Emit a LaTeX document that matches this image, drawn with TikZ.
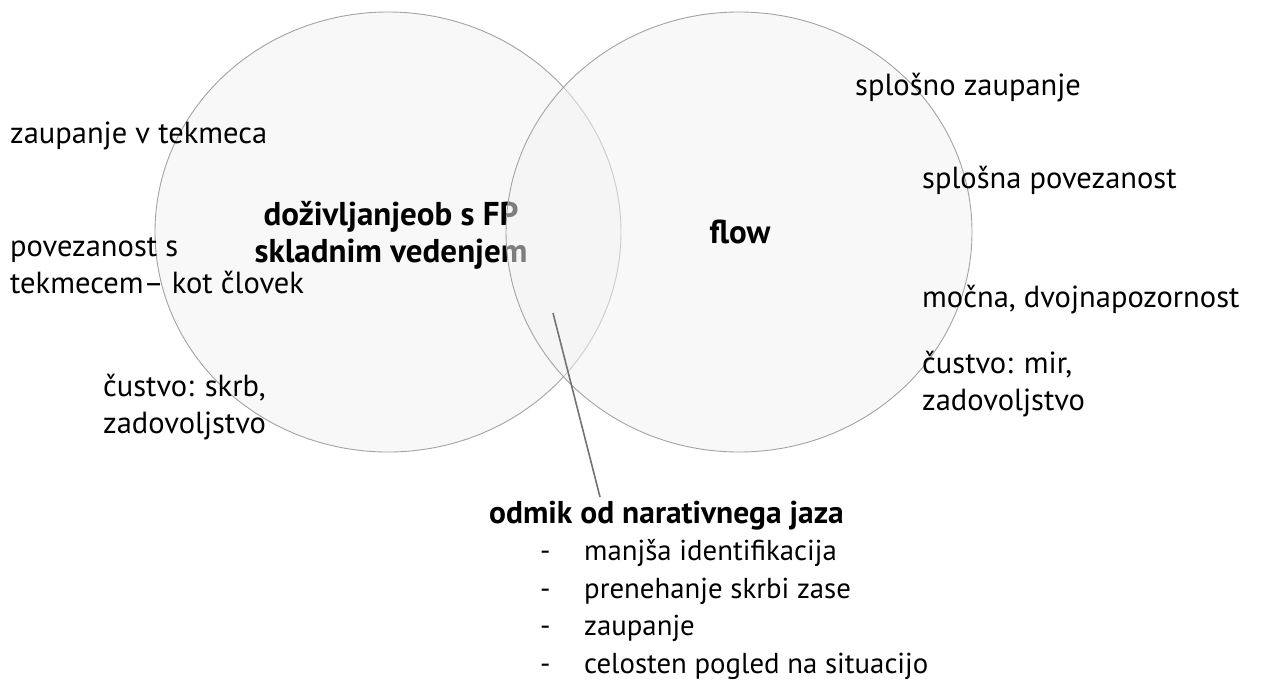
\documentclass[tikz,border=0pt]{standalone}
\usepackage{fontspec}
\setmainfont{PT Sans}

\tikzset{krog/.style = {draw=black!36, line width=0.9pt, fill=black!5, fill opacity=0.52},
         opis/.style = {anchor=base west, inner sep=0pt, align=left,
                        font=\fontsize{30.5}{37}\selectfont},
         alineja/.style = {opis, font=\fontsize{28.8}{37}\selectfont},
         naslov/.style = {anchor=base, inner sep=0pt, align=center,
                          font=\fontsize{33}{37}\selectfont\bfseries}
        }

\begin{document}
\begin{tikzpicture}[x=1pt, y=-1pt]
  \useasboundingbox (0,0) rectangle (1265,680);
  % levi krog
  \draw[krog] (388,232) ellipse [x radius=233pt, y radius=220pt];
  \node[naslov] (fp) at (391,262) {doživljanjeob s FP\\skladnim vedenjem};
  % desni krog (prek besedila levega)
  \draw[krog] (739,232) ellipse [x radius=233pt, y radius=220pt];
  \node[naslov] (flow) at (740,243) {flow};

  \node[opis] (zaupT) at (10,143) {zaupanje v tekmeca};
  \node[opis] (povT)  at (10,293) {povezanost s\\tekmecem– kot človek};
  \node[opis] (skrb)  at (103,433) {čustvo: skrb,\\zadovoljstvo};

  \node[opis] (zaupS) at (855,95)  {splošno zaupanje};
  \node[opis] (povS)  at (922,188) {splošna povezanost};
  \node[opis] (dvoj)  at (922,307) {močna, dvojnapozornost};
  \node[opis] (mir)   at (922,410) {čustvo: mir,\\zadovoljstvo};

  % odmik
  \node[opis, font=\fontsize{31.5}{37}\selectfont\bfseries] (odmik) at (489,523) {odmik od narativnega jaza};
  \foreach \besedilo [count=\i] in {manjša identifikacija, prenehanje skrbi zase,
                                    zaupanje, celosten pogled na situacijo}{
    \node[alineja] (pom\i) at (584,{523+37.5*\i}) {\besedilo};
    \node[alineja] (crt\i) at (540,{523+37.5*\i}) {-};
  }
  \coordinate (presek) at (553,313);
  \coordinate (konec) at (600,497);
  \draw[black!55, line width=1.6pt] (presek) -- (konec);
\end{tikzpicture}
\end{document}
